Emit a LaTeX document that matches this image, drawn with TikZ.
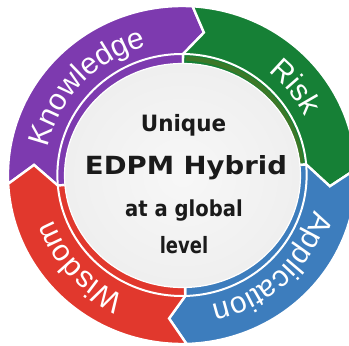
\documentclass[tikz,border=0pt]{standalone}
\usepackage{fontspec}
\usepackage{graphicx}
\usetikzlibrary{decorations.text}
\newfontfamily\labfont{Liberation Sans}
\newfontfamily\ctrfont{DejaVu Sans}
\definecolor{kpurple}{HTML}{7D3AAF}
\definecolor{rgreen}{HTML}{168036}
\definecolor{gstrip}{HTML}{3C7828}
\definecolor{ablue}{HTML}{3D7DBD}
\definecolor{wred}{HTML}{E1382D}
\definecolor{ctxt}{HTML}{1A1A1A}
\pgfdeclareradialshading{sphere}{\pgfpoint{0bp}{0bp}}{color(0bp)=(white!97!black); color(30bp)=(white!93!black); color(50bp)=(white!84!black)}
\newcommand\ringseg[7]{%
  \filldraw[fill=#1, draw=white, line width=2.4, line join=miter]
    (#2:169) arc[start angle=#2, end angle=#5, radius=169]
    -- (#7:144) -- (#6:121) -- (#6:108)
    arc[start angle=#6, end angle=#3, radius=108]
    -- (#3:121) -- (#4:144) -- cycle;}
\tikzset{
  lab/.style={decorate, decoration={text along path, text align=center, text color=white, text={|\labfont\fontsize{30}{30}\selectfont|#1}}},
  ctr/.style={anchor=base, text=ctxt, inner sep=0pt}
}
\begin{document}
\begin{tikzpicture}[x=1pt,y=1pt]
\useasboundingbox (0,0) rectangle (349,346);
\coordinate (C) at (182,171);
\begin{scope}[shift={(C)}, xscale=1.03]
  % segments: color, start outer/inner/tip, end outer/inner/tip
  \ringseg{kpurple}{183}{185}{176}{86.5}{89.5}{81.5}
  \ringseg{rgreen}{86.5}{89.5}{81.5}{2}{5}{-4.5}
  \ringseg{ablue}{2}{5}{-4.5}{-88.5}{-88.5}{-95}
  \ringseg{wred}{271.5}{271.5}{265}{183}{185}{176}
  \draw[white, line width=2] (0,0) circle[radius=121];
  \draw[gstrip, line width=4.5] (88:116.5) arc[start angle=88, end angle=6, radius=116.5];
  % labels
  \path[lab=Knowledge] (197:133) arc[start angle=197, end angle=77, radius=133];
  \path[lab=Risk] (98:133) arc[start angle=98, end angle=-22, radius=133];
  \path[lab=Application] (14:133) arc[start angle=14, end angle=-106, radius=133];
  \path[lab=Wisdom] (282:133) arc[start angle=282, end angle=162, radius=133];
\end{scope}
\fill[shading=sphere] (182.5,170.5) ellipse[x radius=118, y radius=112];
\draw[white, line width=1.2] (182.5,170.5) ellipse[x radius=118, y radius=112];
\node[ctr, font=\ctrfont\bfseries\fontsize{22.5}{22.5}\selectfont] (t1) at (183.5,214.3) {\scalebox{0.955}[1]{Unique}};
\node[ctr, font=\ctrfont\bfseries\fontsize{25}{25}\selectfont] (t2) at (186,171) {\scalebox{1.1}[1]{EDPM Hybrid}};
\node[ctr, font=\ctrfont\bfseries\fontsize{22}{22}\selectfont] (t3) at (184,129.3) {\scalebox{0.89}[1]{at a global}};
\node[ctr, font=\ctrfont\bfseries\fontsize{22.5}{22.5}\selectfont] (t4) at (184,92.7) {\scalebox{0.8}[1]{level}};
\end{tikzpicture}
\end{document}
